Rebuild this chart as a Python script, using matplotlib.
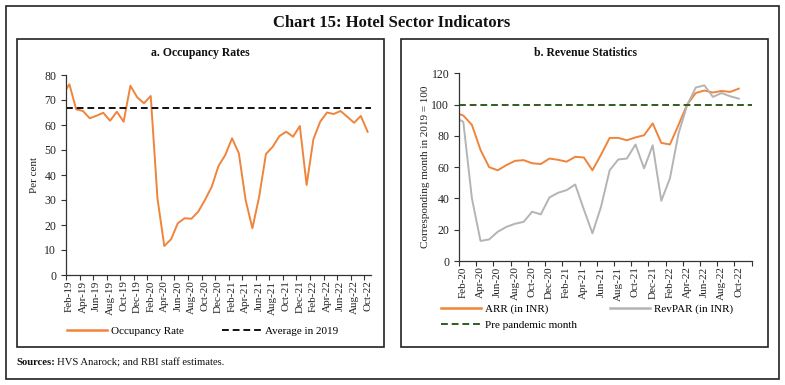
import matplotlib
matplotlib.use("Agg")
import matplotlib.pyplot as plt
from matplotlib.patches import Rectangle
from matplotlib.lines import Line2D

plt.rcParams['font.family'] = ['Liberation Serif', 'DejaVu Serif']

# ---------------- data ----------------
occ_months = ['Jan-19', 'Feb-19', 'Mar-19', 'Apr-19', 'May-19', 'Jun-19', 'Jul-19', 'Aug-19', 'Sep-19',
              'Oct-19', 'Nov-19', 'Dec-19', 'Jan-20', 'Feb-20', 'Mar-20', 'Apr-20', 'May-20',
              'Jun-20', 'Jul-20', 'Aug-20', 'Sep-20', 'Oct-20', 'Nov-20', 'Dec-20', 'Jan-21',
              'Feb-21', 'Mar-21', 'Apr-21', 'May-21', 'Jun-21', 'Jul-21', 'Aug-21', 'Sep-21',
              'Oct-21', 'Nov-21', 'Dec-21', 'Jan-22', 'Feb-22', 'Mar-22', 'Apr-22', 'May-22',
              'Jun-22', 'Jul-22', 'Aug-22', 'Sep-22', 'Oct-22']
occupancy = [72.0, 76.3, 66.3, 65.6, 62.7, 63.7, 64.9, 61.7, 65.3, 61.3, 75.7, 71.1, 68.7, 71.6,
             30.5, 11.6, 14.3, 20.7, 22.7, 22.5, 25.3, 30.0, 35.3, 43.6, 48.0, 54.7, 48.7, 30.0,
             18.7, 31.3, 48.4, 51.3, 55.6, 57.3, 55.3, 59.6, 36.0, 54.3, 61.3, 65.0, 64.4, 65.6,
             63.3, 60.9, 63.6, 57.3]
avg_2019 = 66.8

rev_months = ['Jan-20', 'Feb-20', 'Mar-20', 'Apr-20', 'May-20', 'Jun-20', 'Jul-20', 'Aug-20', 'Sep-20',
              'Oct-20', 'Nov-20', 'Dec-20', 'Jan-21', 'Feb-21', 'Mar-21', 'Apr-21', 'May-21',
              'Jun-21', 'Jul-21', 'Aug-21', 'Sep-21', 'Oct-21', 'Nov-21', 'Dec-21', 'Jan-22',
              'Feb-22', 'Mar-22', 'Apr-22', 'May-22', 'Jun-22', 'Jul-22', 'Aug-22', 'Sep-22', 'Oct-22']
arr = [95.0, 93.0, 87.0, 71.0, 60.0, 58.0, 61.3, 64.0, 64.5, 62.5, 62.0, 65.5, 64.7, 63.5, 66.6,
       66.2, 58.0, 68.0, 78.7, 78.7, 77.2, 79.0, 80.4, 88.0, 75.5, 74.5, 87.0, 100.0, 107.4,
       109.0, 107.7, 108.7, 108.1, 110.2]
revpar = [92.0, 89.0, 40.0, 12.8, 13.8, 18.7, 21.8, 23.8, 25.0, 31.5, 29.8, 40.6, 43.6, 45.3,
          48.9, 33.0, 17.7, 34.7, 58.0, 64.9, 65.5, 74.5, 59.2, 74.0, 38.5, 52.8, 81.5, 99.6,
          110.9, 112.3, 104.9, 107.4, 105.3, 103.8]
pre_pandemic = 100

ORANGE = '#F0843A'
GREY = '#B4B4B4'
GREEN = '#2E5E1E'
DASH = (0, (3.5, 2))

W, H = 785, 385
fig = plt.figure(figsize=(W / 100, H / 100), dpi=100)


def fx(px):
    return px / W


def fy(py):
    return 1 - py / H


# outer frame and panel boxes
fig.patches.append(Rectangle((fx(5.5), fy(379)), fx(779 - 5.5), (379 - 5.5) / H,
                             transform=fig.transFigure, fill=False, lw=1.2, ec='#222222'))
fig.patches.append(Rectangle((fx(16.7), fy(346.7)), fx(384.3 - 16.7), (346.7 - 39.3) / H,
                             transform=fig.transFigure, fill=False, lw=1.2, ec='#222222'))
fig.patches.append(Rectangle((fx(401), fy(346.7)), fx(768.3 - 401), (346.7 - 39.3) / H,
                             transform=fig.transFigure, fill=False, lw=1.2, ec='#222222'))

fig.text(fx(392), fy(23), 'Chart 15: Hotel Sector Indicators', ha='center', va='center',
         fontsize=12, fontweight='bold', color='#111111')
fig.text(fx(200), fy(53), 'a. Occupancy Rates', ha='center', va='center', fontsize=8.5,
         fontweight='bold', color='#111111')
fig.text(fx(585), fy(53), 'b. Revenue Statistics', ha='center', va='center', fontsize=8.5,
         fontweight='bold', color='#111111')
fig.text(fx(16.7), fy(362.7), 'Sources:', ha='left', va='center', fontsize=7.7,
         fontweight='bold', color='#111111')
fig.text(fx(57), fy(362.7), 'HVS Anarock; and RBI staff estimates.', ha='left', va='center',
         fontsize=7.7, color='#111111')


def style_axis(ax):
    for s in ['top', 'right']:
        ax.spines[s].set_visible(False)
    for s in ['left', 'bottom']:
        ax.spines[s].set_color('#333333')
        ax.spines[s].set_linewidth(0.9)
    ax.tick_params(axis='both', which='major', direction='out', length=3.5, width=0.8,
                   colors='#333333', labelsize=8.5, labelcolor='#222222')


# ---------------- left panel ----------------
axL = fig.add_axes([fx(66), fy(275), fx(371 - 66), (275 - 75) / H])
xL = [i - 1 for i in range(len(occupancy))]   # Jan-19 at -1 (clipped), Feb-19 at 0
axL.plot(xL, occupancy, color=ORANGE, lw=1.4)
axL.axhline(avg_2019, color='#111111', lw=1.4, ls=DASH)
nL = len(occupancy) - 1
axL.set_xlim(-0.5, nL - 0.5)
axL.set_ylim(0, 80)
axL.set_yticks(range(0, 81, 10))
style_axis(axL)
axL.set_xticks([k - 0.5 for k in range(0, nL + 1, 2)])
axL.set_xticklabels([])
axL.set_xticks(list(range(0, nL, 2)), minor=True)
axL.set_xticklabels(occ_months[1::2], minor=True, rotation=90, fontsize=8)
axL.tick_params(axis='x', which='minor', length=0, pad=4, labelcolor='#222222')
axL.set_ylabel('Per cent', fontsize=8, labelpad=4, color='#222222')
axL.legend(handles=[Line2D([], [], color=ORANGE, lw=1.8),
                    Line2D([], [], color='#111111', lw=1.4, ls=DASH)],
           labels=['Occupancy Rate', 'Average in 2019'], ncol=2, frameon=False,
           fontsize=8, loc='center left', bbox_to_anchor=(fx(67), fy(331)),
           bbox_transform=fig.transFigure, handlelength=3.6, handletextpad=0.35,
           columnspacing=3.4, borderaxespad=0, borderpad=0)

# ---------------- right panel ----------------
axR = fig.add_axes([fx(459), fy(261), fx(751.7 - 459), (261 - 73.3) / H])
xR = [i - 1 for i in range(len(arr))]
axR.plot(xR, arr, color=ORANGE, lw=1.4)
axR.plot(xR, revpar, color=GREY, lw=1.4)
axR.axhline(pre_pandemic, color=GREEN, lw=1.4, ls=DASH)
nR = len(arr) - 1
axR.set_xlim(-0.5, nR + 0.5)
axR.set_ylim(0, 120)
axR.set_yticks(range(0, 121, 20))
style_axis(axR)
axR.set_xticks([k - 0.5 for k in range(0, nR + 2, 2)])
axR.set_xticklabels([])
axR.set_xticks(list(range(0, nR, 2)), minor=True)
axR.set_xticklabels(rev_months[1::2], minor=True, rotation=90, fontsize=8)
axR.tick_params(axis='x', which='minor', length=0, pad=4, labelcolor='#222222')
axR.set_ylabel('Corresponding month in 2019 = 100', fontsize=8, labelpad=1, color='#222222')
h_arr = Line2D([], [], color=ORANGE, lw=1.8)
h_rev = Line2D([], [], color=GREY, lw=1.8)
h_pre = Line2D([], [], color=GREEN, lw=1.4, ls=DASH)
axR.legend(handles=[h_arr, h_pre, h_rev],
           labels=['ARR (in INR)', 'Pre pandemic month', 'RevPAR (in INR)'], ncol=2,
           frameon=False, fontsize=8, loc='upper left',
           bbox_to_anchor=(fx(441), fy(304)), bbox_transform=fig.transFigure,
           handlelength=3.6, handletextpad=0.35, columnspacing=3.0, labelspacing=0.55,
           borderaxespad=0, borderpad=0)

fig.savefig('out.png', dpi=100)
